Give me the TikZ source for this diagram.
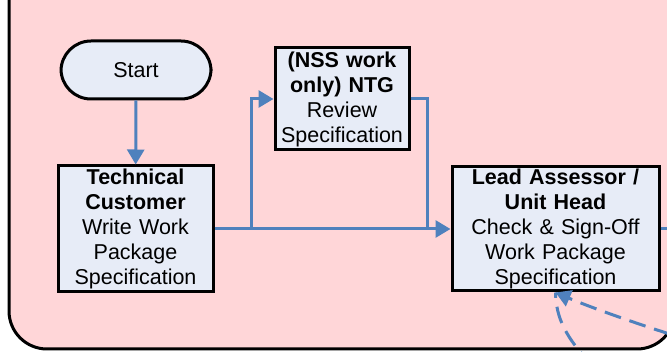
\documentclass[tikz,border=0pt]{standalone}
\usepackage{fontspec}
\setmainfont{Liberation Sans}
\usetikzlibrary{arrows.meta}
\definecolor{bg}{RGB}{255,214,216}
\definecolor{boxfill}{RGB}{231,236,247}
\definecolor{conn}{RGB}{79,129,189}
\begin{document}
\begin{tikzpicture}[x=1pt,y=-1pt,
  proc/.style={draw=black, line width=3pt, fill=boxfill, inner sep=0pt, align=center,
    font=\fontsize{21.5}{25}\selectfont},
  wire/.style={draw=conn, line width=3pt},
  link/.style={wire, -{Triangle[length=15pt,width=17pt]}},
  dashlink/.style={wire, dash pattern=on 17pt off 9pt}]
\useasboundingbox (0,0) rectangle (667,352);
\clip (0,0) rectangle (667,352);
\draw[line width=3pt, fill=bg, rounded corners=38pt] (9,-80) rectangle (675,349);

\node[proc, rounded corners=30pt, minimum width=150pt, minimum height=58pt] (start) at (136,70) {Start};
\node[proc, minimum width=155pt, minimum height=126pt, text width=150pt] (tech) at (135.5,229)
  {\textbf{Technical}\\\textbf{Customer}\\Write Work\\Package\\Specification};
\node[proc, minimum width=134pt, minimum height=102pt, text width=130pt] (nss) at (342,99)
  {\textbf{(NSS work}\\\textbf{only) NTG}\\Review\\Specification};
\node[proc, minimum width=207pt, minimum height=124pt, text width=200pt] (lead) at (555.5,229)
  {\textbf{Lead Assessor /}\\\textbf{Unit Head}\\Check \& Sign-Off\\Work Package\\Specification};

\coordinate (j1) at (251,229);
\coordinate (j2) at (427,229);
\coordinate (offr) at (690,229);
\coordinate (offd1) at (695,342);
\coordinate (offd2) at (592,365);

\draw[link] (start) -- (tech);
\draw[link] (tech) -- (lead);
\draw[link] (j1) |- (nss);
\draw[wire] (nss.east) -| (j2);
\draw[wire] (lead.east) -- (offr);
\draw[dashlink] (offd2) .. controls (566,338) and (556,318) .. (lead.south);
\draw[dashlink, -{Triangle[length=15pt,width=17pt]}] (offd1) .. controls (630,322) and (585,305) .. (lead.south);
\end{tikzpicture}
\end{document}
